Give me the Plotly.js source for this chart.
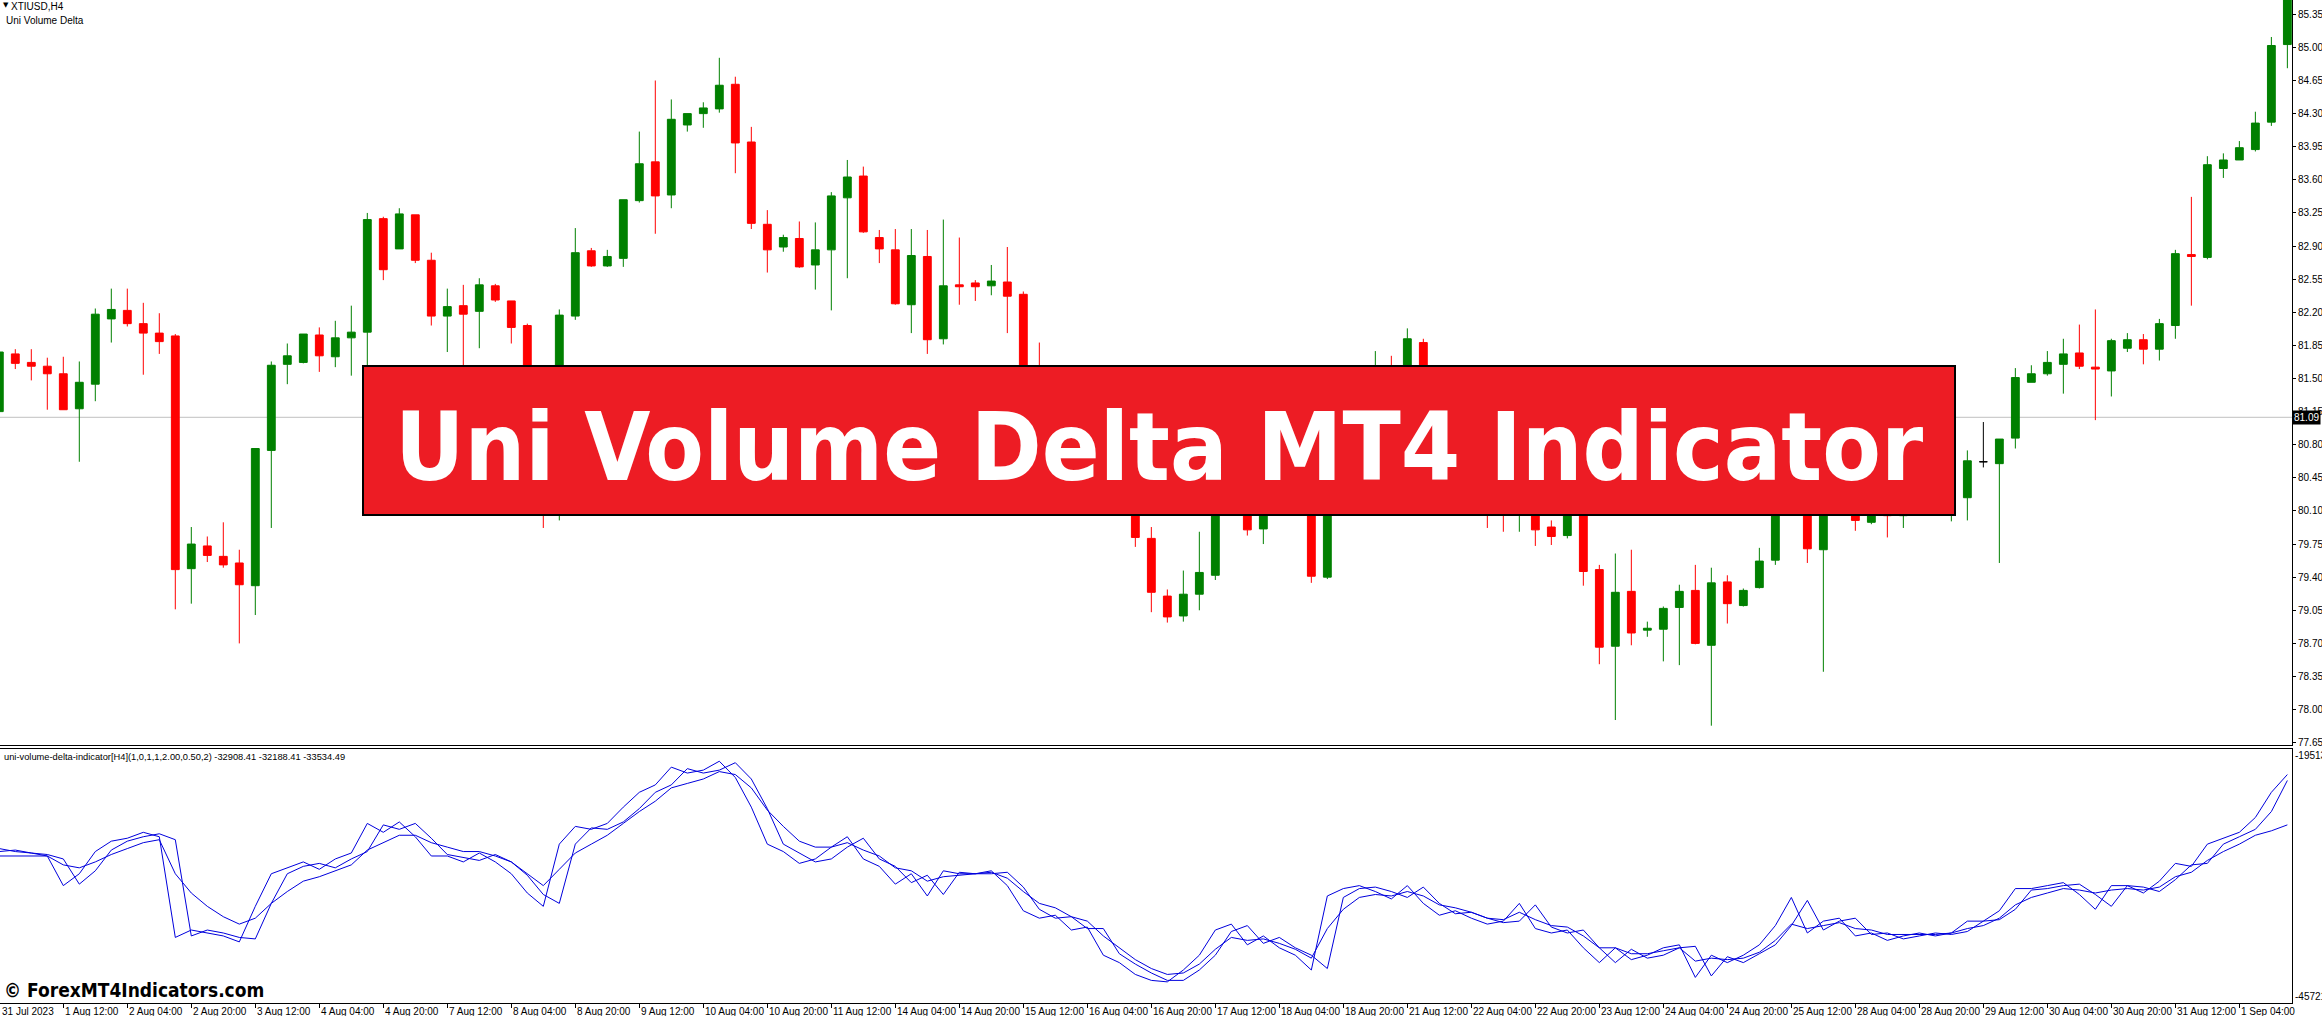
<!DOCTYPE html>
<html>
<head>
<meta charset="utf-8">
<script src="https://cdn.plot.ly/plotly-3.0.1.min.js"></script>
<style>
html,body{margin:0;padding:0;background:#ffffff;overflow:hidden;}
#chart{width:2322px;height:1016px;}
</style>
</head>
<body>
<div id="chart"></div>
<script>
// ---------------- DATA (XTIUSD, H4) ----------------
const symbolLabel = 'XTIUSD,H4';
const indicatorShortName = 'Uni Volume Delta';
const indicatorLegend = 'uni-volume-delta-indicator[H4](1,0,1,1,2.00,0.50,2) -32908.41 -32188.41 -33534.49';
const bannerText = 'Uni Volume Delta MT4 Indicator';
const watermarkText = '© ForexMT4Indicators.com';

const opens = [81.15,81.76,81.67,81.63,81.55,81.18,81.44,82.13,82.22,82.08,
  81.98,81.95,79.49,79.73,79.62,79.55,79.31,80.74,81.65,81.67,
  81.96,81.73,81.93,81.99,83.19,82.87,83.23,82.75,82.16,82.27,
  82.21,82.48,82.32,82.06,81.00,80.10,82.16,82.85,82.69,82.77,
  83.38,83.79,83.44,84.18,84.30,84.35,84.61,84.00,83.13,82.89,
  82.98,82.70,82.86,83.41,83.64,82.99,82.86,82.28,82.79,81.92,
  82.49,82.51,82.48,82.52,82.39,81.50,81.20,81.30,80.85,80.95,
  80.45,80.30,79.81,79.20,78.99,79.22,79.42,80.30,80.50,79.91,
  80.35,80.20,80.10,79.40,80.60,81.10,81.30,81.55,81.30,81.88,
  81.40,81.00,81.10,80.70,80.35,80.20,80.50,79.93,79.84,80.30,
  79.48,78.67,79.25,78.84,78.85,79.08,79.26,78.68,79.35,79.10,
  79.29,79.58,80.40,80.55,79.69,80.30,80.45,79.98,80.25,80.05,
  80.20,80.30,80.22,80.24,80.62,80.60,80.87,81.46,81.55,81.65,
  81.77,81.62,81.58,81.82,81.91,81.81,82.06,82.81,82.78,83.72,
  83.81,83.92,84.21,85.03];

const highs = [81.80,81.81,81.81,81.72,81.73,81.68,82.24,82.45,82.45,82.30,
  82.19,81.97,79.93,79.83,79.98,79.69,80.76,81.68,81.87,81.97,
  82.04,82.11,82.27,83.25,83.21,83.30,83.23,82.83,82.45,82.49,
  82.56,82.50,82.32,82.08,81.10,82.23,83.09,82.88,82.86,83.39,
  84.11,84.65,84.45,84.30,84.42,84.89,84.69,84.16,83.28,83.02,
  83.16,83.15,83.47,83.81,83.74,83.07,83.08,83.08,83.07,83.18,
  82.99,82.54,82.70,82.89,82.42,81.88,81.45,81.40,81.10,81.05,
  80.60,80.40,79.93,79.27,79.47,79.88,80.40,80.70,80.60,80.45,
  80.50,80.40,80.25,80.70,81.20,81.45,81.79,81.74,82.03,81.92,
  81.50,81.30,81.20,80.80,80.50,80.80,80.60,80.00,80.40,80.40,
  79.53,79.65,79.69,78.93,79.09,79.32,79.53,79.50,79.42,79.28,
  79.71,80.50,80.70,80.65,80.45,80.60,80.55,80.40,80.35,80.35,
  80.45,80.40,80.35,80.74,81.04,80.86,81.61,81.64,81.79,81.92,
  82.07,82.23,81.92,81.98,81.97,82.13,82.86,83.42,83.85,83.88,
  84.01,84.32,85.11,85.70];

const lows = [81.12,81.60,81.48,81.17,81.17,80.62,81.26,81.88,82.05,81.54,
  81.76,79.06,79.12,79.56,79.50,78.70,79.00,79.92,81.44,81.66,
  81.57,81.62,81.53,81.55,82.54,82.87,82.72,82.06,81.78,81.60,
  81.82,82.31,81.87,80.90,79.92,80.00,82.12,82.68,82.68,82.68,
  83.36,83.03,83.30,84.11,84.15,84.31,83.67,83.08,82.62,82.84,
  82.67,82.44,82.22,82.56,83.04,82.72,82.28,81.98,81.76,81.86,
  82.28,82.32,82.38,81.98,81.40,81.05,81.00,80.70,80.60,80.30,
  80.15,79.72,79.03,78.92,78.93,79.05,79.37,80.15,79.84,79.75,
  80.10,80.07,79.34,79.38,80.50,80.90,81.20,81.20,81.25,81.30,
  80.85,80.80,80.55,79.92,79.88,79.88,79.73,79.74,79.81,79.31,
  78.48,77.89,78.68,78.77,78.51,78.47,78.69,77.83,78.91,79.09,
  79.28,79.53,80.20,79.55,78.40,80.10,79.89,79.96,79.82,79.92,
  80.10,80.10,79.99,80.00,80.56,79.55,80.76,81.46,81.53,81.34,
  81.60,81.06,81.31,81.78,81.65,81.69,81.92,82.27,82.76,83.62,
  83.81,83.90,84.17,84.78];

const closes = [81.78,81.66,81.63,81.55,81.17,81.46,82.18,82.23,82.08,81.98,
  81.89,79.48,79.75,79.63,79.53,79.32,80.76,81.64,81.74,81.97,
  81.74,81.93,81.99,83.18,82.65,83.24,82.75,82.16,82.26,82.18,
  82.49,82.33,82.04,81.00,80.10,82.17,82.83,82.69,82.79,83.39,
  83.77,83.43,84.24,84.30,84.36,84.60,83.99,83.14,82.86,82.99,
  82.68,82.86,83.43,83.63,83.05,82.87,82.29,82.80,81.91,82.48,
  82.47,82.47,82.53,82.37,81.50,81.20,81.30,80.85,80.95,80.45,
  80.30,79.82,79.24,78.98,79.22,79.45,80.30,80.55,79.90,80.35,
  80.20,80.10,79.41,80.60,81.10,81.30,81.55,81.30,81.92,81.40,
  81.00,81.10,80.70,80.35,80.20,80.50,79.90,79.83,80.30,79.46,
  78.66,79.24,78.81,78.86,79.07,79.25,78.70,79.34,79.12,79.26,
  79.57,80.40,80.55,79.70,80.30,80.45,80.00,80.25,80.05,80.20,
  80.30,80.22,80.26,80.63,80.62,80.86,81.51,81.55,81.67,81.76,
  81.63,81.60,81.90,81.91,81.81,82.08,82.82,82.79,83.76,83.81,
  83.94,84.20,85.02,85.60];

// Uni Volume Delta indicator buffers (one value per bar)
const deltaFast = [-29702,-30010,-30164,-30472,-33552,-32320,-30010,-28932,-28624,-28008,
  -28470,-38942,-38172,-38480,-38788,-39404,-35708,-32320,-31704,-31088,
  -31858,-30780,-30164,-27084,-28008,-26930,-28470,-30472,-30472,-31088,
  -30164,-31088,-32320,-34322,-35708,-29240,-27392,-27700,-27084,-25390,
  -23850,-23080,-21232,-21848,-21540,-20616,-22310,-25390,-29240,-30010,
  -31242,-30780,-29548,-28470,-30780,-31550,-33398,-32320,-34630,-32012,
  -32320,-32320,-32012,-33552,-36170,-36940,-36632,-38172,-37864,-40790,
  -41560,-42792,-43408,-43562,-42330,-40790,-38172,-37556,-39712,-38788,
  -40020,-40790,-42330,-34630,-33860,-33552,-34168,-34938,-33552,-35400,
  -36632,-36170,-36940,-37556,-37248,-35400,-38018,-38480,-38172,-40020,
  -41560,-40020,-41252,-40790,-40020,-39712,-43100,-40790,-41560,-40790,
  -39712,-37710,-34784,-38480,-37248,-36940,-38788,-38480,-39250,-38788,
  -38480,-38788,-38480,-37248,-37248,-36170,-33860,-33860,-33552,-33244,
  -34476,-36016,-33552,-33552,-34322,-33090,-31242,-31550,-29240,-28624,
  -28008,-26468,-23850,-22002];

const deltaSlow = [-30010,-29856,-30164,-30318,-30780,-33398,-32012,-29856,-28932,-28470,
  -28162,-28778,-38788,-38172,-38480,-38942,-39096,-35400,-32320,-31550,
  -31242,-31704,-30780,-30010,-27238,-27700,-27084,-28624,-30318,-30626,
  -30934,-30318,-31088,-32474,-34476,-35400,-29240,-27546,-27700,-26930,
  -25544,-23850,-23080,-21386,-21848,-21540,-20770,-22464,-25544,-29240,
  -30164,-31088,-30780,-29548,-28624,-30780,-31550,-33244,-32474,-34476,
  -32166,-32320,-32320,-32166,-33706,-36016,-36940,-36786,-38018,-38018,
  -40636,-41714,-42638,-43408,-43408,-42330,-40790,-38326,-37710,-39558,
  -38942,-40020,-40790,-42176,-34784,-33860,-33706,-34168,-34784,-33706,
  -35400,-36478,-36324,-36940,-37402,-37248,-35554,-37864,-38480,-38172,
  -40020,-41560,-40174,-41098,-40790,-40020,-39866,-42946,-40944,-41560,
  -40636,-39712,-37710,-35092,-38172,-37248,-36940,-38634,-38480,-39096,
  -38788,-38480,-38634,-38326,-37248,-37094,-36016,-34014,-33860,-33552,
  -33398,-34476,-35708,-33552,-33706,-34168,-32936,-31396,-31242,-29240,
  -28470,-27700,-25852,-22618];

const deltaSignal = [-30472,-30472,-30472,-30472,-31396,-31704,-31088,-30318,-29702,-29086,
  -28778,-32320,-34322,-35708,-36786,-37556,-36940,-35400,-34168,-33090,
  -32628,-32012,-31396,-29856,-29086,-28316,-28316,-29086,-29548,-30010,
  -30010,-30472,-31088,-32320,-33552,-31858,-30164,-29240,-28316,-27084,
  -25852,-24774,-23388,-22926,-22464,-21694,-22002,-23388,-25698,-27392,
  -28932,-29548,-29548,-29086,-29856,-30472,-31704,-32012,-33090,-32628,
  -32474,-32320,-32166,-32782,-34168,-35400,-35862,-36786,-37248,-38788,
  -40020,-41252,-42176,-42792,-42638,-41714,-40174,-38942,-39250,-39096,
  -39558,-40174,-41098,-38018,-36016,-34784,-34476,-34630,-34168,-34630,
  -35554,-35862,-36324,-36940,-37094,-36324,-37094,-37710,-37864,-38788,
  -40020,-40020,-40636,-40636,-40328,-40020,-41406,-41098,-41252,-41098,
  -40482,-39250,-37556,-38018,-37710,-37402,-38018,-38172,-38634,-38634,
  -38634,-38634,-38480,-38018,-37710,-36940,-35554,-34784,-34322,-33860,
  -34014,-34322,-34014,-33860,-34014,-33706,-32628,-32166,-30934,-30010,
  -29240,-28316,-27854,-27238];

const timeLabels = ['31 Jul 2023','1 Aug 12:00','2 Aug 04:00','2 Aug 20:00','3 Aug 12:00','4 Aug 04:00',
  '4 Aug 20:00','7 Aug 12:00','8 Aug 04:00','8 Aug 20:00','9 Aug 12:00','10 Aug 04:00','10 Aug 20:00',
  '11 Aug 12:00','14 Aug 04:00','14 Aug 20:00','15 Aug 12:00','16 Aug 04:00','16 Aug 20:00','17 Aug 12:00',
  '18 Aug 04:00','18 Aug 20:00','21 Aug 12:00','22 Aug 04:00','22 Aug 20:00','23 Aug 12:00','24 Aug 04:00',
  '24 Aug 20:00','25 Aug 12:00','28 Aug 04:00','28 Aug 20:00','29 Aug 12:00','30 Aug 04:00','30 Aug 20:00',
  '31 Aug 12:00','1 Sep 04:00'];
const timeLabelBars = [0,4,8,12,16,20,24,28,32,36,40,44,48,52,56,60,64,68,72,76,80,84,88,92,96,100,
  104,108,112,116,120,124,128,132,136,140];

const priceTicks = [85.35,85.00,84.65,84.30,83.95,83.60,83.25,82.90,82.55,82.20,81.85,81.50,81.15,
  80.80,80.45,80.10,79.75,79.40,79.05,78.70,78.35,78.00,77.65];
const currentPrice = 81.09;
const indicatorScaleLabels = [-19513, -45721];

// ---------------- BUILD ----------------
const bars = opens.map((_, i) => i);
const isDoji = i => opens[i] === closes[i];
const normIdx = bars.filter(i => !isDoji(i));
const dojiIdx = bars.filter(i => isDoji(i));
const pick = (arr, idx) => idx.map(i => arr[i]);

const GREEN = '#008000', RED = '#ff0000', LINE_BLUE = '#0000dd';
const TXT_FONT = 'Liberation Sans, Arial, sans-serif';
const BOLD_FONT = 'DejaVu Sans Condensed, DejaVu Sans, Verdana, sans-serif';

const plotW = 2292, plotH = 1003;
const mainBottomPx = 745, indTopPx = 749;
const xRange = [0.044, 143.29];

const traces = [
  {
    type: 'candlestick', xaxis: 'x', yaxis: 'y',
    x: normIdx, open: pick(opens, normIdx), high: pick(highs, normIdx),
    low: pick(lows, normIdx), close: pick(closes, normIdx),
    increasing: {line: {color: GREEN, width: 1}, fillcolor: GREEN},
    decreasing: {line: {color: RED, width: 1}, fillcolor: RED},
    whiskerwidth: 0, hoverinfo: 'skip'
  },
  {
    type: 'candlestick', xaxis: 'x', yaxis: 'y',
    x: dojiIdx, open: pick(opens, dojiIdx), high: pick(highs, dojiIdx),
    low: pick(lows, dojiIdx), close: pick(closes, dojiIdx),
    increasing: {line: {color: '#000000', width: 1}, fillcolor: '#000000'},
    decreasing: {line: {color: '#000000', width: 1}, fillcolor: '#000000'},
    whiskerwidth: 0, hoverinfo: 'skip'
  },
  {type: 'scatter', mode: 'lines', xaxis: 'x2', yaxis: 'y2', x: bars, y: deltaSignal,
   line: {color: LINE_BLUE, width: 1}, hoverinfo: 'skip'},
  {type: 'scatter', mode: 'lines', xaxis: 'x2', yaxis: 'y2', x: bars, y: deltaSlow,
   line: {color: LINE_BLUE, width: 1}, hoverinfo: 'skip'},
  {type: 'scatter', mode: 'lines', xaxis: 'x2', yaxis: 'y2', x: bars, y: deltaFast,
   line: {color: LINE_BLUE, width: 1}, hoverinfo: 'skip'}
];

const annotations = [];
// top-left chart captions
annotations.push({xref: 'paper', yref: 'paper', x: 0, y: 1, xanchor: 'left', yanchor: 'top',
  xshift: 1, yshift: 1, text: '▼', showarrow: false, font: {family: 'DejaVu Sans', size: 7, color: '#000'}});
annotations.push({xref: 'paper', yref: 'paper', x: 0, y: 1, xanchor: 'left', yanchor: 'top',
  xshift: 9, yshift: 1, text: symbolLabel, showarrow: false, font: {family: TXT_FONT, size: 10, color: '#000'}});
annotations.push({xref: 'paper', yref: 'paper', x: 0, y: 1, xanchor: 'left', yanchor: 'top',
  xshift: 4, yshift: -13, text: indicatorShortName, showarrow: false, font: {family: TXT_FONT, size: 10, color: '#000'}});
// indicator legend
annotations.push({xref: 'paper', yref: 'y2 domain', x: 0, y: 1, xanchor: 'left', yanchor: 'top',
  xshift: 2, yshift: -1, text: indicatorLegend, showarrow: false, font: {family: TXT_FONT, size: 9.3, color: '#000'}});
// indicator scale labels
annotations.push({xref: 'paper', yref: 'y2', x: 1, y: indicatorScaleLabels[0], xanchor: 'left', yanchor: 'middle',
  xshift: 1, yshift: -5, text: String(indicatorScaleLabels[0]), showarrow: false, font: {family: TXT_FONT, size: 10, color: '#000'}});
annotations.push({xref: 'paper', yref: 'y2', x: 1, y: indicatorScaleLabels[1], xanchor: 'left', yanchor: 'middle',
  xshift: 1, yshift: 6, text: String(indicatorScaleLabels[1]), showarrow: false, font: {family: TXT_FONT, size: 10, color: '#000'}});
// current price box
annotations.push({xref: 'paper', yref: 'y', x: 1, y: currentPrice, xanchor: 'left', yanchor: 'middle',
  xshift: 0, text: currentPrice.toFixed(2), showarrow: false, bgcolor: '#000000', borderpad: 1,
  font: {family: TXT_FONT, size: 10, color: '#ffffff'}});
// time labels (first label sits at the left edge of the visible range)
timeLabels.forEach((t, i) => {
  annotations.push({xref: 'x2', yref: 'paper', x: Math.max(timeLabelBars[i], xRange[0]), y: 0,
    xanchor: 'left', yanchor: 'top', xshift: 0, yshift: -1, text: t, showarrow: false,
    font: {family: TXT_FONT, size: 10, color: '#000'}});
});
// banner text
annotations.push({xref: 'paper', yref: 'paper', x: 1159 / plotW, y: (plotH - 447) / plotH,
  xanchor: 'center', yanchor: 'middle', text: bannerText, showarrow: false,
  font: {family: BOLD_FONT, size: 95, color: '#ffffff', weight: 'bold'}});
// watermark
annotations.push({xref: 'paper', yref: 'paper', x: 0, y: (plotH - 990) / plotH,
  xanchor: 'left', yanchor: 'middle', xshift: 2, text: watermarkText, showarrow: false,
  font: {family: BOLD_FONT, size: 19, color: '#000000', weight: 'bold'}});

const shapes = [
  {type: 'line', xref: 'paper', yref: 'y', x0: 0, x1: 1, y0: currentPrice, y1: currentPrice,
   line: {color: '#c0c0c0', width: 1}, layer: 'below'},
  {type: 'rect', xref: 'paper', yref: 'paper', x0: 363 / plotW, x1: 1955 / plotW,
   y0: (plotH - 515) / plotH, y1: (plotH - 366) / plotH,
   fillcolor: '#ed1c24', line: {color: '#000000', width: 2}, layer: 'above'}
];

const layout = {
  width: 2322, height: 1016,
  margin: {l: 0, r: 30, t: 0, b: 1016 - plotH, pad: 0},
  paper_bgcolor: '#ffffff', plot_bgcolor: '#ffffff',
  showlegend: false,
  xaxis: {domain: [0, 1], range: xRange, anchor: 'y', showgrid: false, zeroline: false,
    showticklabels: false, ticks: '', showline: true, linecolor: '#000', linewidth: 1,
    rangeslider: {visible: false}, fixedrange: true},
  yaxis: {domain: [(plotH - mainBottomPx) / plotH, 1], range: [77.626, 85.501], anchor: 'x', side: 'right',
    tickvals: priceTicks, tickformat: '.2f', ticks: 'outside', ticklen: 3, tickcolor: '#000',
    showline: true, linecolor: '#000', linewidth: 1, showgrid: false, zeroline: false,
    tickfont: {family: TXT_FONT, size: 10, color: '#000'}, automargin: false, fixedrange: true},
  xaxis2: {domain: [0, 1], range: xRange, anchor: 'y2', showgrid: false, zeroline: false,
    showline: true, mirror: true, linecolor: '#000', linewidth: 1,
    ticks: 'outside', ticklen: 4, tickcolor: '#000', tickvals: timeLabelBars.slice(1),
    showticklabels: false, fixedrange: true},
  yaxis2: {domain: [0, (plotH - indTopPx) / plotH], range: [-45761, -19345], anchor: 'x2', side: 'right',
    showline: true, linecolor: '#000', linewidth: 1, showticklabels: false, ticks: '',
    showgrid: false, zeroline: false, fixedrange: true},
  annotations: annotations,
  shapes: shapes
};

Plotly.newPlot('chart', traces, layout, {staticPlot: true, displayModeBar: false});
</script>
</body>
</html>
